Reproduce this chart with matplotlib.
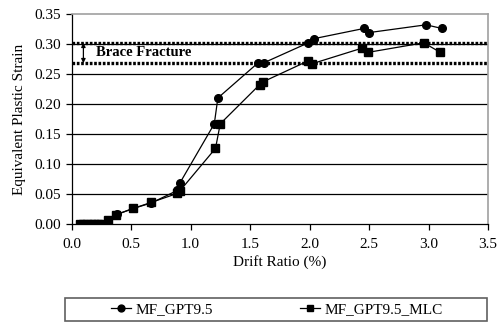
import matplotlib
matplotlib.use("Agg")
import matplotlib.pyplot as plt
from matplotlib.patches import Rectangle

plt.rcParams['font.family'] = ['Liberation Serif', 'DejaVu Serif']

# Data
drift_a = [0.07, 0.10, 0.13, 0.16, 0.19, 0.22, 0.25, 0.31, 0.38, 0.52, 0.67, 0.89, 0.91,
           1.20, 1.23, 1.57, 1.62, 1.99, 2.04, 2.46, 2.50, 2.98, 3.11]
strain_a = [0, 0, 0, 0, 0, 0, 0, 0.007, 0.016, 0.026, 0.035, 0.056, 0.068,
            0.167, 0.210, 0.269, 0.269, 0.302, 0.309, 0.326, 0.319, 0.332, 0.326]
drift_b = [0.07, 0.10, 0.13, 0.16, 0.19, 0.22, 0.25, 0.31, 0.37, 0.52, 0.67, 0.89, 0.91,
           1.21, 1.25, 1.58, 1.61, 1.99, 2.02, 2.44, 2.49, 2.96, 3.10]
strain_b = [0, 0, 0, 0, 0, 0, 0, 0.007, 0.015, 0.026, 0.036, 0.051, 0.055,
            0.126, 0.167, 0.232, 0.237, 0.272, 0.267, 0.293, 0.286, 0.302, 0.286]
label_a = "MF_GPT9.5"
label_b = "MF_GPT9.5_MLC"
fracture_upper = 0.302
fracture_lower = 0.268
x_ticks = [0.0, 0.5, 1.0, 1.5, 2.0, 2.5, 3.0, 3.5]
y_ticks = [0.00, 0.05, 0.10, 0.15, 0.20, 0.25, 0.30, 0.35]

W, H = 501, 325
fig = plt.figure(figsize=(W / 100, H / 100), dpi=100)
ax = fig.add_axes([71.5 / W, 1 - 224 / H, (488 - 71.5) / W, (224 - 14) / H])

ax.set_xlim(0, 3.5)
ax.set_ylim(0, 0.35)

for yv in y_ticks[1:-1]:
    ax.axhline(yv, color='black', lw=0.9, zorder=1)

ax.axhline(fracture_upper, color='black', lw=2.4, ls=(0, (0.8, 0.5)), zorder=2)
ax.axhline(fracture_lower, color='black', lw=2.4, ls=(0, (0.8, 0.5)), zorder=2)
ax.annotate('', xy=(0.10, fracture_lower), xytext=(0.10, fracture_upper),
            arrowprops=dict(arrowstyle='<|-|>', color='black', lw=0.9,
                            mutation_scale=6, shrinkA=0, shrinkB=0), zorder=3)
ax.text(0.21, (fracture_upper + fracture_lower) / 2, 'Brace Fracture',
        fontsize=10.5, fontweight='bold', va='center', ha='left', zorder=4)

ax.plot(drift_a, strain_a, color='black', lw=0.9, marker='o', ms=5.5, label=label_a, zorder=5)
ax.plot(drift_b, strain_b, color='black', lw=0.9, marker='s', ms=5.5, label=label_b, zorder=5)

ax.set_xticks(x_ticks)
ax.set_xticklabels([f"{v:.1f}" for v in x_ticks])
ax.set_yticks(y_ticks)
ax.set_yticklabels([f"{v:.2f}" for v in y_ticks])
ax.tick_params(axis='both', direction='out', length=4, width=0.9, labelsize=11, colors='black')
ax.tick_params(axis='x', pad=6)

for s in ['top', 'right']:
    ax.spines[s].set_color('#a0a0a0')
    ax.spines[s].set_linewidth(1.2)
for s in ['left', 'bottom']:
    ax.spines[s].set_color('black')
    ax.spines[s].set_linewidth(0.9)

ax.set_xlabel('Drift Ratio (%)', fontsize=11, labelpad=3)
ax.set_ylabel('Equivalent Plastic Strain', fontsize=11, labelpad=6)

# legend frame
fig.patches.append(Rectangle((65 / W, 4 / H), (487 - 65) / W, (27 - 4) / H,
                             transform=fig.transFigure, fill=False,
                             edgecolor='#606060', lw=1.2))
handles, labels = ax.get_legend_handles_labels()
fig.legend(handles, labels, loc='center', bbox_to_anchor=(277 / W, 15.5 / H),
           ncol=2, frameon=False, fontsize=11, handlelength=1.3, handletextpad=0.3,
           columnspacing=5.7, markerscale=0.9)

fig.savefig('out.png', dpi=100)
